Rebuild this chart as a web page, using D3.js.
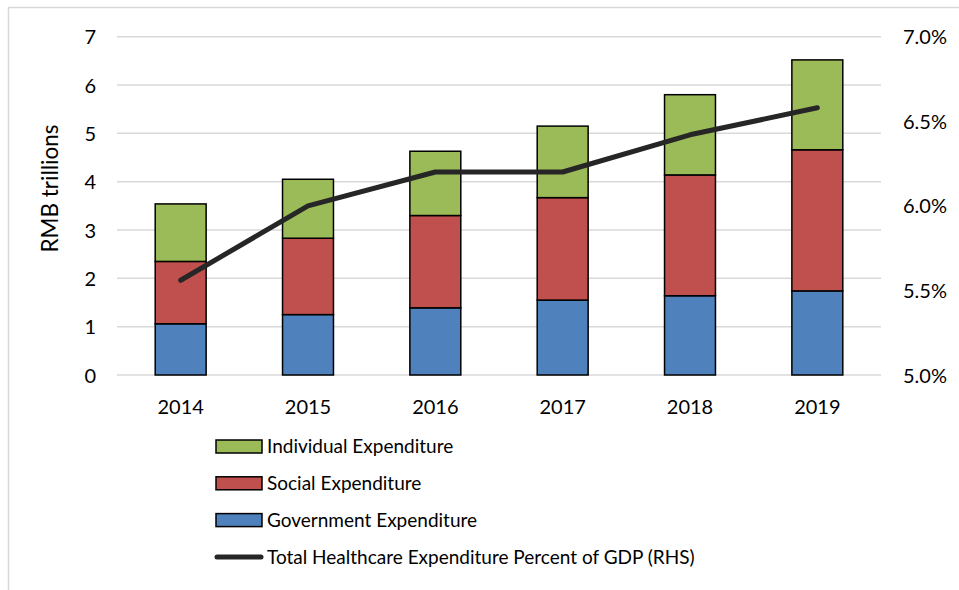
<!DOCTYPE html>
<html>
<head>
<meta charset="utf-8">
<script src="https://cdn.jsdelivr.net/npm/d3@7"></script>
<style>
  html, body { margin: 0; padding: 0; background: #fff; }
  svg { display: block; }
  text { font-family: Lato, "Open Sans", sans-serif; fill: #000; }
</style>
</head>
<body>
<svg id="chart" width="959" height="590"></svg>
<script>
const years = ["2014", "2015", "2016", "2017", "2018", "2019"];
const government = [1.06, 1.25, 1.39, 1.55, 1.64, 1.74];
const social = [1.29, 1.58, 1.91, 2.12, 2.50, 2.92];
const individual = [1.19, 1.22, 1.33, 1.48, 1.66, 1.86];
const gdpPercent = [5.56, 6.00, 6.20, 6.20, 6.42, 6.58];
const leftTicks = [0, 1, 2, 3, 4, 5, 6, 7];
const rightTicks = [5.0, 5.5, 6.0, 6.5, 7.0];
const seriesNames = ["Government Expenditure", "Social Expenditure", "Individual Expenditure"];
const lineName = "Total Healthcare Expenditure Percent of GDP (RHS)";
const colors = { "Government Expenditure": "#4f81bd", "Social Expenditure": "#c0504d", "Individual Expenditure": "#9bbb59" };

const svg = d3.select("#chart");
const W = 959, H = 590;
const m = { left: 117, right: 881, top: 36.7, bottom: 375 };

// frame
svg.append("path").attr("d", `M8.5,${H} L8.5,7.5 L${W},7.5`).attr("fill", "none").attr("stroke", "#d9d9d9").attr("stroke-width", 1.5);

const x = d3.scaleBand().domain(years).range([m.left, m.right]).paddingInner(0.6).paddingOuter(0.3);
const y = d3.scaleLinear().domain([0, 7]).range([m.bottom, m.top]);
const y2 = d3.scaleLinear().domain([5, 7]).range([m.bottom, m.top]);

// gridlines
svg.append("g").selectAll("line").data(leftTicks).join("line")
  .attr("x1", m.left).attr("x2", m.right)
  .attr("y1", d => y(d)).attr("y2", d => y(d))
  .attr("stroke", "#d9d9d9").attr("stroke-width", 1.5);

// stacked data
const rows = years.map((yr, i) => ({
  year: yr,
  "Government Expenditure": government[i],
  "Social Expenditure": social[i],
  "Individual Expenditure": individual[i]
}));
const stack = d3.stack().keys(seriesNames)(rows);

svg.append("g").selectAll("g").data(stack).join("g")
  .attr("fill", d => colors[d.key])
  .selectAll("rect").data(d => d).join("rect")
  .attr("x", d => x(d.data.year))
  .attr("width", x.bandwidth())
  .attr("y", d => y(d[1]))
  .attr("height", d => y(d[0]) - y(d[1]))
  .attr("stroke", "#000").attr("stroke-width", 1.5);

// line
const line = d3.line().x((d, i) => x(years[i]) + x.bandwidth() / 2).y(d => y2(d));
svg.append("path").datum(gdpPercent).attr("d", line)
  .attr("fill", "none").attr("stroke", "#262626").attr("stroke-width", 5)
  .attr("stroke-linecap", "round").attr("stroke-linejoin", "round");

// left axis
const fs = 20;
const yAxis = d3.axisLeft(y).tickValues(leftTicks).tickSize(0).tickPadding(0).tickFormat(d3.format("d"));
const gy = svg.append("g").attr("transform", `translate(96,0)`).call(yAxis);
gy.select(".domain").remove();
gy.selectAll("text").attr("font-size", fs).attr("font-family", "Lato, sans-serif").attr("dy", "0.35em");

// right axis
const yAxis2 = d3.axisRight(y2).tickValues(rightTicks).tickSize(0).tickPadding(0).tickFormat(d => d.toFixed(1) + "%");
const gy2 = svg.append("g").attr("transform", `translate(903,0)`).call(yAxis2);
gy2.select(".domain").remove();
gy2.selectAll("text").attr("font-size", fs).attr("font-family", "Lato, sans-serif").attr("dy", "0.35em");

// x axis
const xAxis = d3.axisBottom(x).tickSize(0).tickPadding(0);
const gx = svg.append("g").attr("transform", `translate(0,407)`).call(xAxis);
gx.select(".domain").remove();
gx.selectAll("text").attr("font-size", fs).attr("font-family", "Lato, sans-serif").attr("dy", "0.35em");

// y label
svg.append("text").attr("transform", "translate(50,188.5) rotate(-90)")
  .attr("text-anchor", "middle").attr("dy", "0.35em").attr("font-size", 22.5).text("RMB trillions");

// legend
const legendItems = [
  { name: "Individual Expenditure", type: "rect" },
  { name: "Social Expenditure", type: "rect" },
  { name: "Government Expenditure", type: "rect" },
  { name: lineName, type: "line" }
];
const lg = svg.append("g").selectAll("g").data(legendItems).join("g")
  .attr("transform", (d, i) => `translate(216,${446.5 + i * 36.8})`);
lg.filter(d => d.type === "rect").append("rect")
  .attr("x", 0).attr("y", -6.5).attr("width", 46).attr("height", 13)
  .attr("fill", d => colors[d.name]).attr("stroke", "#000").attr("stroke-width", 1.5);
lg.filter(d => d.type === "line").append("line")
  .attr("x1", 1).attr("x2", 45).attr("y1", 0).attr("y2", 0)
  .attr("stroke", "#262626").attr("stroke-width", 5).attr("stroke-linecap", "round");
lg.append("text").attr("x", 51).attr("dy", "0.35em").attr("font-size", 19).text(d => d.name);
</script>
</body>
</html>
